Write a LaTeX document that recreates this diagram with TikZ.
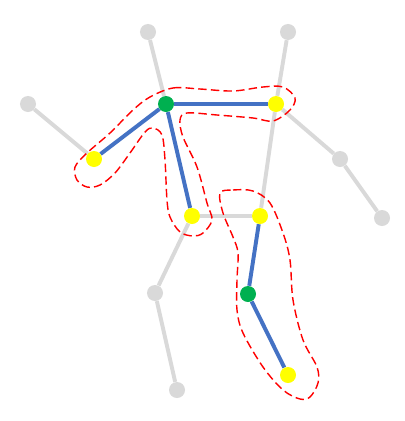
\documentclass[tikz,border=0pt]{standalone}
\usetikzlibrary{backgrounds}
\definecolor{figGris}{RGB}{217,217,217}
\definecolor{figBleu}{RGB}{68,114,196}
\definecolor{figVert}{RGB}{0,176,80}
\definecolor{figJaune}{RGB}{255,255,0}
\definecolor{figRouge}{RGB}{255,0,0}

\begin{document}
\begin{tikzpicture}[
  x=0.025cm, y=-0.025cm,
  jt/.style={circle, inner sep=0pt, minimum size=0.4cm},
  gris/.style={jt, fill=figGris},
  vert/.style={jt, fill=figVert},
  jaune/.style={jt, fill=figJaune},
  os/.style={line width=2.8pt, figGris},
  actif/.style={line width=2.8pt, figBleu},
  zone/.style={draw=figRouge, line width=1pt, dash pattern=on 6pt off 3pt}
]
\useasboundingbox (0,0) rectangle (405,421);

% Articulations
\node[gris]  (tete1)  at (148,32)  {};
\node[gris]  (tete2)  at (288,32)  {};
\node[gris]  (mainG)  at (28,104)  {};
\node[vert]  (cou)    at (166,104) {};
\node[jaune] (epauD)  at (276,104) {};
\node[jaune] (coudeG) at (94,159)  {};
\node[gris]  (coudeD) at (340,159) {};
\node[gris]  (mainD)  at (382,218) {};
\node[jaune] (hancG)  at (192,216) {};
\node[jaune] (hancD)  at (260,216) {};
\node[gris]  (genG)   at (155,293) {};
\node[vert]  (genD)   at (248,294) {};
\node[gris]  (piedG)  at (177,390) {};
\node[jaune] (piedD)  at (288,375) {};

% Os, sous les articulations
\begin{scope}[on background layer]
\draw[os] (tete1) -- (cou);
\draw[os] (tete2) -- (epauD) -- (hancD);
\draw[os] (mainG) -- (coudeG);
\draw[os] (epauD) -- (coudeD) -- (mainD);
\draw[os] (hancG) -- (hancD);
\draw[os] (hancG) -- (genG) -- (piedG);
\draw[actif] (cou) -- (epauD);
\draw[actif] (cou) -- (coudeG);
\draw[actif] (cou) -- (hancG);
\draw[actif] (hancD) -- (genD) -- (piedD);
\end{scope}

% Contours en pointilles
\draw[zone] plot[smooth cycle, tension=0.55] coordinates {
  (150,97) (173,88) (200,89) (233,91) (263,87) (283,87) (295,98) (290,110)
  (273,121) (253,118) (217,115) (187,113) (180,120) (183,137) (197,167)
  (207,203) (212,220) (203,233) (193,236) (180,232) (170,217) (167,200)
  (165,160) (162,135) (153,128) (145,132) (130,153) (115,173) (100,185)
  (87,187) (77,180) (75,167) (87,153) (110,133) (133,110)};
\draw[zone] plot[smooth cycle, tension=0.55] coordinates {
  (220,193) (233,190) (253,191) (270,203) (283,233) (290,260) (293,300)
  (303,340) (317,367) (318,383) (310,397) (300,399) (283,390) (263,367)
  (243,333) (237,310) (237,280) (238,253) (233,237) (223,213)};
\end{tikzpicture}
\end{document}
